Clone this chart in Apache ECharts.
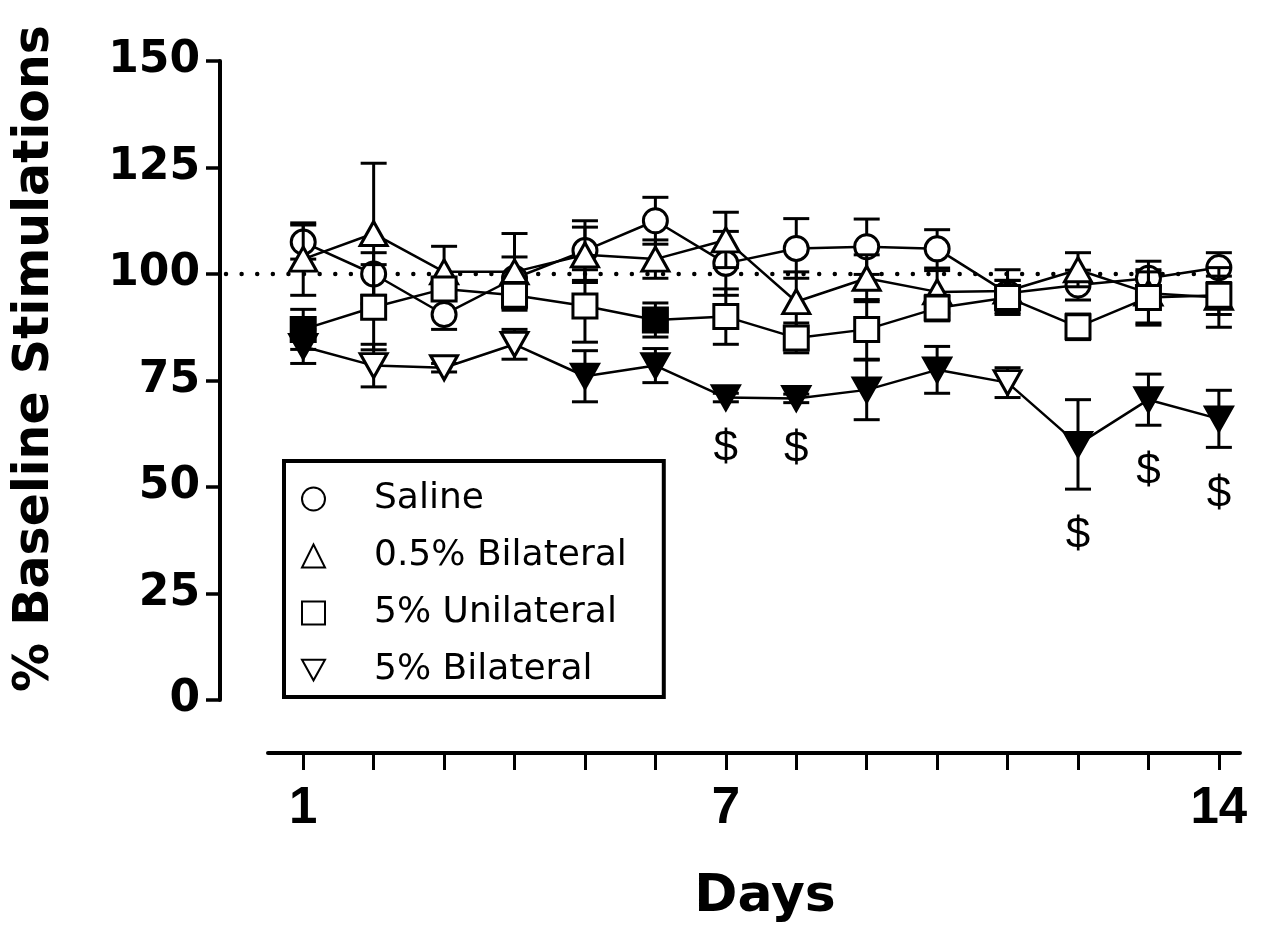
<!DOCTYPE html>
<html>
<head>
<meta charset="utf-8">
<script src="https://cdn.jsdelivr.net/npm/echarts@6/dist/echarts.min.js"></script>
<style>html,body{margin:0;padding:0;background:#fff;}#c{width:1262px;height:935px;}</style>
</head>
<body>
<div id="c"></div>
<script>
const days = [1,2,3,4,5,6,7,8,9,10,11,12,13,14];
const xTickLabels = [1,7,14];
const yTicks = [0,25,50,75,100,125,150];
const seriesNames = ['Saline','0.5% Bilateral','5% Unilateral','5% Bilateral'];

const salineMean = [107.5,100,90.5,99,105.5,112.5,102.5,106,106.4,105.9,95.5,97.4,99,101.5];
const salineSem  = [4,5,3.5,5,7,5.5,7.5,7,6.5,4.5,3,3.5,2,3.5];
const bil05Mean  = [103.5,109.5,100.5,100.5,104.5,103.5,108,93.5,99,95.8,96,101,95.5,94.5];
const bil05Sem   = [8.5,16.5,6,9,6.5,4.5,6.5,7,5.5,5,5,4,7.5,7];
const uni5Mean   = [87,92.2,96.5,95,92.5,89.2,90,85,87,92,94.5,87.6,94.5,95];
const uni5Sem    = [4.7,10,2,3,8.5,4,6.5,3.5,7,3,4,3,6,4.5];
const bil5Mean   = [83,78.5,78,83.5,76,78.5,71,70.8,72.8,77.5,74.5,60,70.5,66];
const bil5Sem    = [4,5,1,3.5,6,4,1,1,7,5.5,3.5,10.5,6,6.7];
// 1 = filled (significant vs baseline) marker
const uni5Filled = [1,0,0,0,0,1,0,0,0,0,0,0,0,0];
const bil5Filled = [1,0,0,0,1,1,1,1,1,1,0,1,1,1];
const dollarDays = [7,8,12,13,14];
const baselineValue = 100;

const chart = echarts.init(document.getElementById('c'), null, {renderer:'canvas'});

function errBarSeries(mean, sem, z){
  return {
    type:'custom', xAxisIndex:0, yAxisIndex:0, z:z, silent:true,
    encode:{x:0, y:1},
    data: days.map((d,i)=>[d, mean[i], sem[i]]),
    renderItem:function(params, api){
      const x = api.value(0), m = api.value(1), s = api.value(2);
      const t = api.coord([x, m + s]);
      const b = api.coord([x, m - s]);
      const hw = 13;
      const st = {stroke:'#000', lineWidth:3};
      return {type:'group', children:[
        {type:'line', shape:{x1:t[0], y1:t[1], x2:b[0], y2:b[1]}, style:st},
        {type:'line', shape:{x1:t[0]-hw, y1:t[1], x2:t[0]+hw, y2:t[1]}, style:st},
        {type:'line', shape:{x1:b[0]-hw, y1:b[1], x2:b[0]+hw, y2:b[1]}, style:st}
      ]};
    }
  };
}

function lineSeries(name, mean, symbol, size, rotate, filled, z){
  return {
    name:name, type:'line', xAxisIndex:0, yAxisIndex:0, z:z,
    data: days.map((d,i)=>({
      value:[d, mean[i]],
      itemStyle:{color: (filled && filled[i]) ? '#000' : '#fff', borderColor:'#000', borderWidth:3, opacity:1}
    })),
    symbol:symbol, symbolSize:size, symbolRotate:rotate, showAllSymbol:true,
    lineStyle:{color:'#000', width:2.5},
    itemStyle:{color:'#fff', borderColor:'#000', borderWidth:3},
    emphasis:{disabled:true}, animation:false
  };
}

const legendTextStyle = {fontFamily:'DejaVu Sans', fontSize:36, color:'#000', padding:[0,0,0,44]};
const legendItemStyle = {color:'#fff', borderColor:'#000', borderWidth:2};

const option = {
  backgroundColor:'#fff',
  animation:false,
  grid:[
    {left:268, right:22, top:61, bottom:235},
    {left:226, right:22, top:61, bottom:235}
  ],
  xAxis:[
    {gridIndex:0, type:'value', min:0.5, max:14.3, offset:53,
     name:'Days', nameLocation:'middle', nameGap:118,
     nameTextStyle:{fontFamily:'DejaVu Sans', fontWeight:'bold', fontSize:52, color:'#000', padding:[0,0,0,22]},
     axisLine:{show:true, onZero:false, lineStyle:{color:'#000', width:4}},
     axisTick:{show:true, customValues:days, length:17, lineStyle:{color:'#000', width:3}},
     axisLabel:{customValues:xTickLabels, margin:30, fontFamily:'Liberation Sans', fontWeight:'bold', fontSize:51, color:'#000'},
     splitLine:{show:false}},
    {gridIndex:1, type:'value', min:0, max:1, show:false}
  ],
  yAxis:[
    {gridIndex:0, type:'value', min:0, max:150, interval:25, offset:48,
     name:'% Baseline Stimulations', nameLocation:'middle', nameGap:160,
     nameTextStyle:{fontFamily:'DejaVu Sans', fontWeight:'bold', fontSize:49, color:'#000', padding:[0,0,0,44]},
     axisLine:{show:true, onZero:false, lineStyle:{color:'#000', width:4}},
     axisTick:{show:true, length:14, lineStyle:{color:'#000', width:3.5}},
     axisLabel:{margin:20, fontFamily:'DejaVu Sans', fontWeight:'bold', fontSize:44, color:'#000',
       customValues: yTicks},
     splitLine:{show:false}},
    {gridIndex:1, type:'value', min:0, max:150, show:false}
  ],
  legend:{
    orient:'vertical', left:284, top:461, selectedMode:false,
    padding:[20,37,9,17], itemGap:21, itemWidth:23, itemHeight:23,
    borderColor:'#000', borderWidth:4, backgroundColor:'#fff',
    textStyle:legendTextStyle,
    data:[
      {name:seriesNames[0], icon:'circle', itemStyle:legendItemStyle},
      {name:seriesNames[1], icon:'triangle', itemStyle:legendItemStyle},
      {name:seriesNames[2], icon:'rect', itemStyle:legendItemStyle},
      {name:seriesNames[3], icon:'path://M0,0L20,0L10,18Z', itemStyle:legendItemStyle}
    ]
  },
  series:[
    {type:'line', xAxisIndex:1, yAxisIndex:1, z:1, silent:true, symbol:'none',
     data:[[0, baselineValue],[1, baselineValue]],
     lineStyle:{color:'#000', width:4.5, type:[0.01,15.6], cap:'round'}},
    errBarSeries(salineMean, salineSem, 2),
    lineSeries(seriesNames[0], salineMean, 'circle', 24, 0, null, 3),
    errBarSeries(bil05Mean, bil05Sem, 4),
    lineSeries(seriesNames[1], bil05Mean, 'triangle', [27,24], 0, null, 5),
    errBarSeries(uni5Mean, uni5Sem, 6),
    lineSeries(seriesNames[2], uni5Mean, 'rect', 24, 0, uni5Filled, 7),
    errBarSeries(bil5Mean, bil5Sem, 8),
    lineSeries(seriesNames[3], bil5Mean, 'triangle', [27,24], 180, bil5Filled, 9),
    {type:'custom', xAxisIndex:0, yAxisIndex:0, z:10, silent:true, encode:{x:0, y:1},
     data: dollarDays.map(d=>{const i = days.indexOf(d); return [d, bil5Mean[i], bil5Sem[i]];}),
     renderItem:function(params, api){
       const p = api.coord([api.value(0), api.value(1) - api.value(2)]);
       return {type:'text', x:p[0], y:p[1] + 47,
         style:{text:'$', fontFamily:'Liberation Sans', fontSize:44, fill:'#000', align:'center', verticalAlign:'middle'}};
     }}
  ]
};
chart.setOption(option);
</script>
</body>
</html>
